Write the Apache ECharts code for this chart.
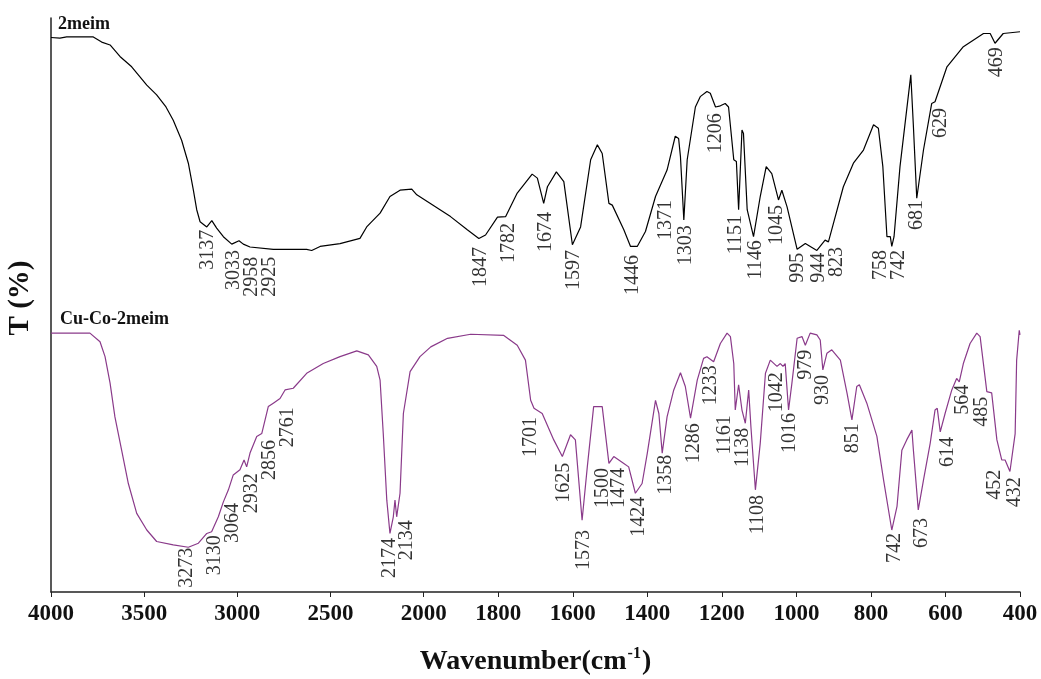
<!DOCTYPE html>
<html>
<head>
<meta charset="utf-8">
<title>FTIR 2meim / Cu-Co-2meim</title>
<script src="https://cdn.jsdelivr.net/npm/echarts@6/dist/echarts.min.js"></script>
<style>
  html, body { margin: 0; padding: 0; background: #fff; }
  #main { width: 1041px; height: 679px; }
</style>
</head>
<body>
<div id="main"></div>
<script>
// wavenumber ticks of the x axis (cm-1)
const xTicks = [4000, 3500, 3000, 2500, 2000, 1800, 1600, 1400, 1200, 1000, 800, 600, 400];

// [wavenumber, T] (T is the stacked offset scale, 0..100)
const spec2meim = [
  [4000,96.6],[3952,96.5],[3916,96.7],[3773,96.7],[3728,95.8],[3683,95.3],[3630,93.3],[3567,91.5],
  [3486,88.3],[3433,86.6],[3383,84.5],[3344,82.2],[3299,78.7],[3263,74.7],[3236,70.0],[3218,66.6],
  [3200,64.5],[3164,63.6],[3137,64.7],[3111,63.4],[3075,61.9],[3030,60.6],[2991,61.2],[2968,60.6],
  [2932,60.1],[2807,59.7],[2628,59.7],[2601,59.5],[2556,60.2],[2449,60.7],[2342,61.6],[2306,63.6],
  [2234,66.0],[2181,68.9],[2127,70.0],[2064,70.2],[2037,69.2],[1928,65.4],[1883,63.1],[1852,61.6],
  [1834,62.2],[1802,65.3],[1780,65.4],[1749,69.5],[1709,72.8],[1695,72.1],[1678,67.7],[1668,70.6],
  [1644,73.2],[1624,71.5],[1601,60.5],[1579,63.6],[1552,75.3],[1534,77.9],[1521,76.4],[1503,67.7],
  [1494,67.4],[1463,63.1],[1445,60.2],[1427,60.2],[1405,62.8],[1378,68.9],[1347,73.5],[1325,79.4],
  [1316,79.0],[1311,75.8],[1302,64.8],[1293,75.3],[1271,84.5],[1258,86.3],[1240,87.2],[1231,86.9],
  [1217,84.5],[1204,84.7],[1191,85.1],[1182,84.5],[1168,75.3],[1161,75.0],[1155,66.6],[1146,80.5],
  [1142,79.9],[1132,66.6],[1115,61.9],[1097,68.9],[1081,74.1],[1066,72.9],[1048,68.3],[1039,70.0],
  [1025,67.1],[998,59.7],[976,60.7],[945,59.5],[923,61.3],[914,61.0],[874,70.6],[847,74.7],
  [820,77.0],[793,81.4],[780,80.8],[768,74.1],[757,61.9],[748,61.9],[744,60.2],[738,61.9],
  [722,74.1],[693,90.1],[686,81.1],[677,68.6],[659,77.0],[637,85.1],[628,85.4],[596,91.5],
  [552,95.0],[498,97.3],[480,97.3],[467,95.6],[445,97.3],[400,97.6]
];

const specCuCo = [
  [4000,45.1],[3791,45.1],[3737,43.6],[3710,41.0],[3683,36.4],[3657,30.5],[3621,24.7],[3585,18.9],
  [3540,13.7],[3486,10.8],[3433,8.8],[3344,8.2],[3263,7.8],[3209,8.5],[3164,10.2],[3138,10.5],
  [3102,13.1],[3075,15.7],[3048,17.8],[3022,20.4],[2986,21.3],[2964,23.0],[2950,21.8],[2932,24.2],
  [2896,27.1],[2869,27.6],[2834,32.3],[2807,32.9],[2771,33.7],[2744,35.2],[2700,35.5],[2628,38.1],
  [2539,39.8],[2449,41.0],[2359,42.0],[2297,41.3],[2252,39.3],[2234,36.9],[2217,27.6],[2198,16.0],
  [2181,10.2],[2163,13.1],[2154,16.0],[2145,13.1],[2127,17.2],[2109,31.1],[2073,38.4],[2020,41.0],
  [1981,42.7],[1936,44.2],[1874,44.9],[1785,44.7],[1749,43.0],[1727,40.4],[1713,33.4],[1704,32.0],
  [1682,31.1],[1651,26.5],[1628,23.6],[1606,27.4],[1593,26.5],[1575,12.5],[1561,21.8],[1544,32.3],
  [1521,32.3],[1503,22.4],[1490,23.6],[1463,22.4],[1450,21.8],[1432,17.2],[1414,18.9],[1400,24.2],
  [1378,33.4],[1369,31.1],[1360,24.2],[1347,30.5],[1329,35.2],[1311,38.2],[1298,35.8],[1284,30.3],
  [1266,36.9],[1249,40.7],[1240,41.0],[1222,40.1],[1204,43.3],[1186,45.1],[1177,44.5],[1168,39.8],
  [1164,31.7],[1155,36.1],[1146,31.7],[1137,29.4],[1128,35.2],[1122,28.8],[1110,17.8],[1097,25.9],
  [1083,38.1],[1070,40.4],[1052,39.3],[1043,39.8],[1036,39.3],[1030,39.8],[1021,31.7],[1012,36.4],
  [998,44.2],[985,44.5],[976,43.0],[963,45.1],[945,44.8],[936,43.9],[929,38.7],[918,41.6],
  [905,42.2],[882,40.4],[864,34.6],[851,30.0],[838,35.8],[831,36.1],[811,32.9],[784,27.1],
  [766,19.5],[744,10.8],[730,14.9],[717,24.7],[704,26.5],[690,28.2],[686,24.7],[673,14.3],
  [659,19.5],[641,25.9],[628,31.7],[622,32.0],[614,27.9],[601,31.1],[583,35.2],[570,37.2],
  [563,36.6],[552,39.8],[534,43.3],[516,45.1],[507,44.5],[489,34.9],[476,34.7],[462,26.5],
  [449,23.0],[440,23.0],[427,21.0],[413,27.6],[409,40.4],[402,45.6],[400,44.8]
];

// peak annotations: text, where the label sits (wavenumber), top end of label (T)
const peaks2meim = ["3137","3033","2958","2925","1847","1782","1674","1597","1446","1371","1303","1206",
  "1151","1146","1045","995","944","823","758","742","681","629","469"];
const peaks2meimAt = [3157,3018,2921,2825,1847,1772,1673,1598,1440,1351,1298,1217,
  1164,1110,1054,995,941,893,773,724,676,612,462];
const peaks2meimTop = [63.1,59.6,58.4,58.4,60.1,64.3,66.2,59.6,58.7,68.3,63.9,83.4,
  65.7,61.3,67.4,59.1,59.1,60.1,59.6,59.6,68.3,84.3,94.9];

const peaksCuCo = ["3273","3130","3064","2932","2856","2761","2174","2134","1701","1625","1573","1500",
  "1474","1424","1358","1286","1233","1161","1138","1108","1042","1016","979","930","851","742","673",
  "614","564","485","452","432"];
const peaksCuCoAt = [3270,3120,3023,2921,2825,2728,2181,2089,1713,1625,1571,1520,
  1477,1424,1351,1276,1231,1191,1145,1105,1054,1019,976,928,848,735,663,
  593,553,502,467,413];
const peaksCuCoTop = [7.7,9.9,15.5,20.7,26.5,32.2,9.4,12.5,30.5,22.5,10.8,21.6,
  21.6,16.6,23.9,29.4,39.5,30.8,28.6,16.9,38.3,31.2,42.2,37.8,29.4,10.3,12.9,
  27.0,36.1,34.0,21.3,20.0];

// split scale: 4000-2000 at 1x, 2000-400 at 2x
function pos(w) { return w >= 2000 ? 4000 - w : 2000 + (2000 - w) * 2; }
function unpos(p) { return p <= 2000 ? 4000 - p : 2000 - (p - 2000) / 2; }

const serif = '"Liberation Serif", "Times New Roman", serif';

function peakSeries(texts, at, top) {
  return {
    type: "scatter",
    symbolSize: 0,
    silent: true,
    data: texts.map((t, i) => ({ name: t, value: [pos(at[i]), top[i]] })),
    label: {
      show: true,
      formatter: "{b}",
      position: "inside",
      rotate: 90,
      align: "right",
      verticalAlign: "middle",
      fontFamily: serif,
      fontSize: 20,
      color: "#000",
    },
  };
}

const myChart = echarts.init(document.getElementById("main"));
myChart.setOption({
  animation: false,
  grid: { left: 51, right: 21, top: 18, bottom: 87, outerBoundsMode: "none", containLabel: false },
  xAxis: {
    type: "value",
    min: 0,
    max: 5200,
    splitLine: { show: false },
    axisLine: { lineStyle: { color: "#222", width: 1.5 } },
    axisTick: {
      show: true,
      length: 5,
      customValues: xTicks.map(pos),
      lineStyle: { color: "#222" },
    },
    axisLabel: {
      customValues: xTicks.map(pos),
      formatter: (v) => String(Math.round(unpos(v))),
      margin: 11,
      fontFamily: serif,
      fontWeight: "bold",
      fontSize: 23,
      color: "#111",
    },
    name: "{a|Wavenumber(cm}{s|-1}{a|)}",
    nameLocation: "middle",
    nameGap: 54,
    nameTextStyle: {
      rich: {
        a: { fontFamily: serif, fontWeight: "bold", fontSize: 28, color: "#111", verticalAlign: "bottom" },
        s: { fontFamily: serif, fontWeight: "bold", fontSize: 16, color: "#111", verticalAlign: "top", padding: [0, 1, 14, 1] },
      },
    },
  },
  yAxis: {
    type: "value",
    min: 0,
    max: 100,
    splitLine: { show: false },
    axisTick: { show: false },
    axisLabel: { show: false },
    axisLine: { show: true, lineStyle: { color: "#222", width: 1.5 } },
    name: "T (%)",
    nameLocation: "middle",
    nameRotate: 90,
    nameGap: 16,
    nameTextStyle: { fontFamily: serif, fontWeight: "bold", fontSize: 29, color: "#111", padding: [0, 0, 0, 14] },
  },
  graphic: [
    { type: "text", left: 58, top: 15, style: { text: "2meim", font: "bold 18px " + serif, fill: "#111" } },
    { type: "text", left: 60, top: 310, style: { text: "Cu-Co-2meim", font: "bold 18px " + serif, fill: "#111" } },
  ],
  series: [
    {
      name: "2meim",
      type: "line",
      symbol: "none",
      silent: true,
      lineStyle: { color: "#000", width: 1.2 },
      data: spec2meim.map((d) => [pos(d[0]), d[1]]),
    },
    {
      name: "Cu-Co-2meim",
      type: "line",
      symbol: "none",
      silent: true,
      lineStyle: { color: "#8a3a8a", width: 1.2 },
      data: specCuCo.map((d) => [pos(d[0]), d[1]]),
    },
    peakSeries(peaks2meim, peaks2meimAt, peaks2meimTop),
    peakSeries(peaksCuCo, peaksCuCoAt, peaksCuCoTop),
  ],
});
</script>
</body>
</html>
